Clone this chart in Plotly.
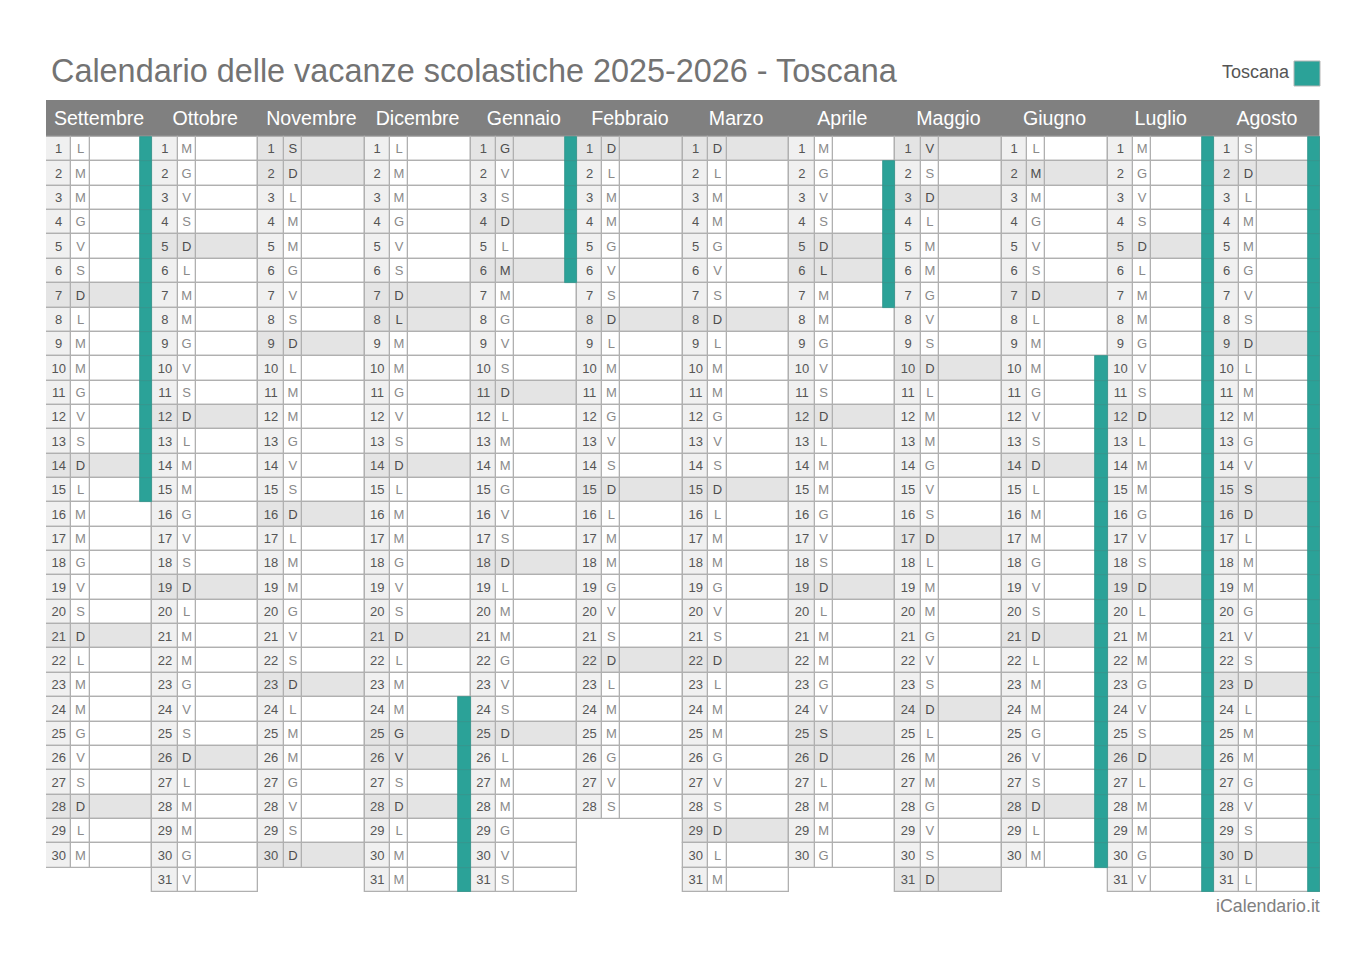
import plotly.graph_objects as go

TITLE = "Calendario delle vacanze scolastiche 2025-2026 - Toscana"
REGION = "Toscana"
SOURCE = "iCalendario.it"

MONTHS = ["Settembre", "Ottobre", "Novembre", "Dicembre", "Gennaio", "Febbraio",
          "Marzo", "Aprile", "Maggio", "Giugno", "Luglio", "Agosto"]

# one letter per day of the month
WEEKDAYS = [
    "LMMGVSDLMMGVSDLMMGVSDLMMGVSDLM",
    "MGVSDLMMGVSDLMMGVSDLMMGVSDLMMGV",
    "SDLMMGVSDLMMGVSDLMMGVSDLMMGVSD",
    "LMMGVSDLMMGVSDLMMGVSDLMMGVSDLMM",
    "GVSDLMMGVSDLMMGVSDLMMGVSDLMMGVS",
    "DLMMGVSDLMMGVSDLMMGVSDLMMGVS",
    "DLMMGVSDLMMGVSDLMMGVSDLMMGVSDLM",
    "MGVSDLMMGVSDLMMGVSDLMMGVSDLMMG",
    "VSDLMMGVSDLMMGVSDLMMGVSDLMMGVSD",
    "LMMGVSDLMMGVSDLMMGVSDLMMGVSDLM",
    "MGVSDLMMGVSDLMMGVSDLMMGVSDLMMGV",
    "SDLMMGVSDLMMGVSDLMMGVSDLMMGVSDL",
]

# sundays and public holidays, shaded grey
GREY_DAYS = [
    [7, 14, 21, 28],
    [5, 12, 19, 26],
    [1, 2, 9, 16, 23, 30],
    [7, 8, 14, 21, 25, 26, 28],
    [1, 4, 6, 11, 18, 25],
    [1, 8, 15, 22],
    [1, 8, 15, 22, 29],
    [5, 6, 12, 19, 25, 26],
    [1, 3, 10, 17, 24, 31],
    [2, 7, 14, 21, 28],
    [5, 12, 19, 26],
    [2, 9, 15, 16, 23, 30],
]

# school holiday blocks, first and last day per month (0 = none)
HOLIDAY_FROM = [1, 0, 0, 24, 1, 0, 0, 2, 0, 10, 1, 1]
HOLIDAY_TO = [15, 0, 0, 31, 6, 0, 0, 7, 0, 30, 31, 31]

NUM_COL = 0.24
LETTER_COL = 0.17
TEAL_COL = 0.115
HEADER_ROWS = 1.52
TEXT_NUDGE = 0.04  # text sits a touch under the row centre
HEADER_NUDGE = 0.08

TEAL = "#2ba298"
LINE = "#b0b0b0"
GREY = "#e4e4e4"
NUM_BG = "#f0f0f0"
FONT = "Liberation Sans"

days, num_base, letter_base, rest_base = [], [], [], []
num_fill, letter_fill, rest_fill = [], [], []
day_text, letter_text, letter_color = [], [], []
teal_days, teal_base = [], []

for m, letters in enumerate(WEEKDAYS):
    for i, letter in enumerate(letters):
        d = i + 1
        grey = d in GREY_DAYS[m]
        days.append(d - 0.5)
        num_base.append(m)
        letter_base.append(m + NUM_COL)
        rest_base.append(m + NUM_COL + LETTER_COL)
        num_fill.append(GREY if grey else NUM_BG)
        letter_fill.append(GREY if grey else "white")
        rest_fill.append(GREY if grey else "white")
        day_text.append(str(d))
        letter_text.append(letter)
        letter_color.append("#4d4d4d" if grey else "#8a8a8a")
        if HOLIDAY_FROM[m] and HOLIDAY_FROM[m] <= d <= HOLIDAY_TO[m]:
            teal_days.append(d - 0.5)
            teal_base.append(m + 1 - TEAL_COL)

fig = go.Figure()


def add_cells(y, base, size, fill, line, line_width=1.3):
    fig.add_trace(go.Bar(
        y=y, x=[size] * len(y), base=base, width=1, orientation="h",
        marker={"color": fill, "line": {"color": line, "width": line_width}},
        cliponaxis=False, hoverinfo="skip",
    ))


# header band
fig.add_trace(go.Bar(
    y=[-HEADER_ROWS / 2], x=[len(MONTHS)], base=[0], width=HEADER_ROWS, orientation="h",
    marker={"color": "#808080", "line": {"color": "#c4c4c4", "width": 1}},
    cliponaxis=False, hoverinfo="skip",
))

add_cells(days, rest_base, 1 - NUM_COL - LETTER_COL, rest_fill, LINE)
add_cells(days, letter_base, LETTER_COL, letter_fill, LINE)
add_cells(days, num_base, NUM_COL, num_fill, LINE)
add_cells(teal_days, teal_base, TEAL_COL, TEAL, "#35958d", 0.8)

fig.add_trace(go.Scatter(
    x=[m + 0.5 for m in range(len(MONTHS))], y=[-HEADER_ROWS / 2 + HEADER_NUDGE] * len(MONTHS),
    text=MONTHS, mode="text", textposition="middle center",
    textfont={"family": FONT, "size": 19.6, "color": "white"}, cliponaxis=False,
))
fig.add_trace(go.Scatter(
    x=[b + NUM_COL / 2 for b in num_base], y=[d + TEXT_NUDGE for d in days], text=day_text,
    mode="text", textposition="middle center",
    textfont={"family": FONT, "size": 13, "color": "#555555"}, cliponaxis=False,
))
fig.add_trace(go.Scatter(
    x=[b + LETTER_COL / 2 for b in letter_base], y=[d + TEXT_NUDGE for d in days], text=letter_text,
    mode="text", textposition="middle center",
    textfont={"family": FONT, "size": 13, "color": letter_color}, cliponaxis=False,
))

fig.update_layout(
    width=1366, height=967, autosize=False,
    margin={"l": 46, "r": 46, "t": 100, "b": 75, "pad": 0},
    paper_bgcolor="white", plot_bgcolor="white",
    showlegend=False, barmode="overlay", bargap=0,
    title={"text": TITLE, "x": 51 / 1366, "xanchor": "left", "y": 1 - 71 / 967, "yanchor": "middle",
           "font": {"family": FONT, "size": 32.4, "color": "#737373"}},
    xaxis={"range": [0, len(MONTHS)], "visible": False, "fixedrange": True},
    yaxis={"range": [31, -HEADER_ROWS], "visible": False, "fixedrange": True},
    shapes=[{"type": "rect", "xref": "paper", "yref": "paper",
             "x0": 1 - 26 / 1274, "x1": 1, "y0": 1 + 14 / 792, "y1": 1 + 39 / 792,
             "fillcolor": TEAL, "line": {"color": "#b5b5b5", "width": 1}}],
    annotations=[
        {"text": REGION, "xref": "paper", "yref": "paper", "x": 1 - 28 / 1274, "y": 1 + 28 / 792,
         "xanchor": "right", "yanchor": "middle", "showarrow": False,
         "font": {"family": FONT, "size": 18, "color": "#555555"}},
        {"text": SOURCE, "xref": "paper", "yref": "paper", "x": 1 + 1.5 / 1274, "y": -14 / 792,
         "xanchor": "right", "yanchor": "middle", "showarrow": False,
         "font": {"family": FONT, "size": 17.8, "color": "#808080"}},
    ],
)

fig.write_html("out.html", config={"displayModeBar": False},
               post_script="document.body.style.margin='0';")
